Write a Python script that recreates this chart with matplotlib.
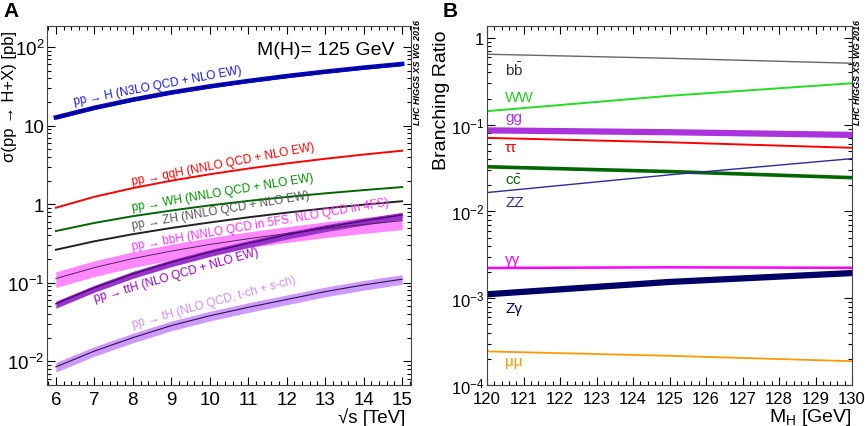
import matplotlib
matplotlib.use('Agg')
import matplotlib.pyplot as plt
from matplotlib.ticker import MultipleLocator, LogLocator, FixedLocator, FixedFormatter, NullFormatter

plt.rcParams['font.family'] = ['Liberation Sans', 'DejaVu Sans']
plt.rcParams['mathtext.fontset'] = 'custom'
plt.rcParams['mathtext.rm'] = 'Liberation Sans'
plt.rcParams['mathtext.it'] = 'Liberation Sans:italic'
plt.rcParams['mathtext.bf'] = 'Liberation Sans:bold'

# panel A: production cross sections for M(H)=125 GeV, in pb
sqrts = [6, 7, 8, 9, 10, 11, 12, 13, 14, 15]
xs_ggH = [12.7, 16.85, 21.42, 26.4, 31.6, 37.0, 42.7, 48.6, 54.7, 60.9]
xs_qqH = [0.90, 1.241, 1.601, 1.99, 2.40, 2.84, 3.30, 3.78, 4.28, 4.79]
xs_WH = [0.455, 0.577, 0.703, 0.83, 0.965, 1.10, 1.235, 1.373, 1.51, 1.65]
xs_ZH = [0.263, 0.337, 0.415, 0.498, 0.585, 0.68, 0.78, 0.884, 0.986, 1.09]
xs_bbH = [0.113, 0.156, 0.203, 0.253, 0.307, 0.363, 0.423, 0.488, 0.551, 0.617]
xs_ttH = [0.054, 0.0861, 0.1293, 0.182, 0.245, 0.318, 0.408, 0.507, 0.614, 0.73]
xs_tH = [0.0085, 0.0135, 0.0200, 0.0285, 0.038, 0.0487, 0.0612, 0.0771, 0.0938, 0.111]
# relative band widths (up, down)
unc_ggH = (0.05, 0.05)
unc_bbH = (0.22, 0.23)
unc_ttH = (0.08, 0.12)
unc_tH = (0.14, 0.14)

# panel A labels: text, x, y, angle, colour
procs_A = [
    ('pp \u2192 H (N3LO QCD + NLO EW)', 6.49, 19.0, 10.7, '#1a1acc'),
    ('pp \u2192 qqH (NNLO QCD + NLO EW)', 8.0, 1.82, 10.8, '#ff0000'),
    ('pp \u2192 WH (NNLO QCD + NLO EW)', 8.0, 0.83, 9.4, '#009000'),
    ('pp \u2192 ZH (NNLO QCD + NLO EW)', 8.0, 0.49, 9.7, '#555555'),
    ('pp \u2192 bbH (NNLO QCD in 5FS, NLO QCD in 4FS)', 8.0, 0.27, 9.8, '#ff33ff'),
    ('pp \u2192 ttH (NLO QCD + NLO EW)', 7.02, 0.058, 16.0, '#9900cc'),
    ('pp \u2192 tH (NLO QCD, t-ch + s-ch)', 8.0, 0.0275, 15.4, '#d28cff'),
]
yticks_A = [0.01, 0.1, 1, 10, 100]
ylabels_A = ['$10^{-2}$', '$10^{-1}$', '1', '10', '$10^{2}$']

# panel B: branching ratios
mh = [120, 125, 130]
br = {
    'bb': [0.648, 0.581, 0.51],
    'WW': [0.143, 0.215, 0.30],
    'gg': [0.0859, 0.0818, 0.0762],
    'tautau': [0.0704, 0.0626, 0.0541],
    'cc': [0.0327, 0.0288, 0.0245],
    'ZZ': [0.0165, 0.0264, 0.0406],
    'gamgam': [0.00223, 0.00227, 0.00224],
    'Zgam': [0.00111, 0.00154, 0.00195],
    'mumu': [0.000244, 0.000217, 0.000188],
}
# key, label, label y, line colour, text colour, width
decays = [
    ('bb', r'b$\bar{\mathrm{b}}$', 0.44, '#666666', '#333333', 1.0),
    ('WW', 'WW', 0.21, '#22dd22', '#22cc22', 1.4),
    ('gg', 'gg', 0.123, '#aa33dd', '#aa33dd', 4.5),
    ('tautau', '\u03c4\u03c4', 0.056, '#ff0000', '#ff0000', 1.4),
    ('cc', r'c$\bar{\mathrm{c}}$', 0.023, '#006600', '#006600', 2.6),
    ('ZZ', 'ZZ', 0.013, '#2b2ba0', '#2b2ba0', 1.0),
    ('gamgam', '\u03b3\u03b3', 0.0028, '#ff00ff', '#ff00ff', 1.8),
    ('Zgam', 'Z\u03b3', 0.00077, '#000066', '#000066', 4.5),
    ('mumu', '\u03bc\u03bc', 0.00019, '#ff9900', '#ff9900', 1.3),
]
yticks_B = [1e-4, 1e-3, 1e-2, 1e-1, 1]
ylabels_B = ['$10^{-4}$', '$10^{-3}$', '$10^{-2}$', '$10^{-1}$', '1']


def style_axis(ax, size):
    ax.tick_params(which='both', direction='in', top=True, right=True, labelsize=size)
    ax.tick_params(which='major', length=6, width=0.8)
    ax.tick_params(which='minor', length=3, width=0.8)
    ax.tick_params(axis='y', pad=2)
    ax.tick_params(axis='x', pad=4)
    ax.set_yscale('log')
    ax.yaxis.set_minor_locator(LogLocator(base=10, subs=range(2, 10)))
    ax.yaxis.set_minor_formatter(NullFormatter())
    ax.xaxis.set_major_locator(MultipleLocator(1))
    ax.xaxis.set_minor_locator(MultipleLocator(0.2))
    for s in ax.spines.values():
        s.set_linewidth(0.8)
        s.set_color('#444444')


def band(ax, x, y, unc, col, alpha=1.0):
    lo = [v * (1 - unc[1]) for v in y]
    hi = [v * (1 + unc[0]) for v in y]
    ax.fill_between(x, lo, hi, color=col, alpha=alpha, lw=0)


fig = plt.figure(figsize=(8.65, 4.27), dpi=100)

# ---- panel A
axA = fig.add_axes([47/865, 1-386/427, 364/865, 359/427])
style_axis(axA, 13.5)
band(axA, sqrts, xs_bbH, unc_bbH, '#ff88ff')
axA.plot(sqrts, xs_bbH, color='#552255', lw=0.7)
band(axA, sqrts, xs_tH, unc_tH, '#cc99ff')
axA.plot(sqrts, xs_tH, color='#331144', lw=0.8)
band(axA, sqrts, xs_ttH, unc_ttH, '#9933cc')
axA.plot(sqrts, xs_ttH, color='#4a0070', lw=1.0)
axA.plot(sqrts, xs_qqH, color='#ff0000', lw=1.4)
axA.plot(sqrts, xs_WH, color='#006600', lw=1.4)
axA.plot(sqrts, xs_ZH, color='#222222', lw=1.4)
band(axA, sqrts, xs_ggH, unc_ggH, '#0000dd')
axA.plot(sqrts, xs_ggH, color='#0000dd', lw=3.2)
axA.plot(sqrts, xs_ggH, color='#000022', lw=1.0, dashes=(4, 2))

for txt, x, y, ang, col in procs_A:
    axA.text(x, y, txt, color=col, fontsize=8.5, rotation=ang,
             rotation_mode='anchor', ha='left', va='baseline')

axA.set_xlim(5.77, 15.23)
axA.set_ylim(0.005, 185)
axA.yaxis.set_major_locator(FixedLocator(yticks_A))
axA.yaxis.set_major_formatter(FixedFormatter(ylabels_A))
axA.set_ylabel('\u03c3(pp \u2192 H+X) [pb]', fontsize=12, loc='top')
axA.yaxis.set_label_coords(-0.083, 0.99)
axA.set_xlabel('\u221as [TeV]', fontsize=13.5, loc='right')
axA.xaxis.set_label_coords(0.984, -0.063)
axA.text(0.955, 0.935, 'M(H)= 125 GeV', transform=axA.transAxes, fontsize=14,
         ha='right', va='center')

fig.text(418/865, 1-20/427, 'LHC HIGGS XS WG 2016', rotation=90, ha='center',
         va='top', fontsize=6.5, fontweight='bold', style='italic')
fig.text(3/865, 1-2/427, 'A', fontsize=15, fontweight='bold', ha='left', va='top')

# ---- panel B
axB = fig.add_axes([487/865, 1-386/427, 365/865, 359/427])
style_axis(axB, 12)
for key, lab, ly, col, tcol, lw in decays:
    axB.plot(mh, br[key], color=col, lw=lw, solid_capstyle='butt')
    axB.text(120.5, ly, lab, color=tcol, fontsize=11, ha='left', va='center')

axB.set_xlim(120, 130)
axB.set_ylim(1e-4, 1.37)
axB.yaxis.set_major_locator(FixedLocator(yticks_B))
axB.yaxis.set_major_formatter(FixedFormatter(ylabels_B))
axB.set_ylabel('Branching Ratio', fontsize=14, loc='top')
axB.yaxis.set_label_coords(-0.1, 0.99)
axB.set_xlabel('M$_{\\mathrm{H}}$ [GeV]', fontsize=14, loc='right')
axB.xaxis.set_label_coords(1.0, -0.058)

fig.text(857/865, 1-20/427, 'LHC HIGGS XS WG 2016', rotation=90, ha='center',
         va='top', fontsize=6.5, fontweight='bold', style='italic')
fig.text(443/865, 1-2/427, 'B', fontsize=15, fontweight='bold', ha='left', va='top')

fig.savefig('out.png', dpi=100)
